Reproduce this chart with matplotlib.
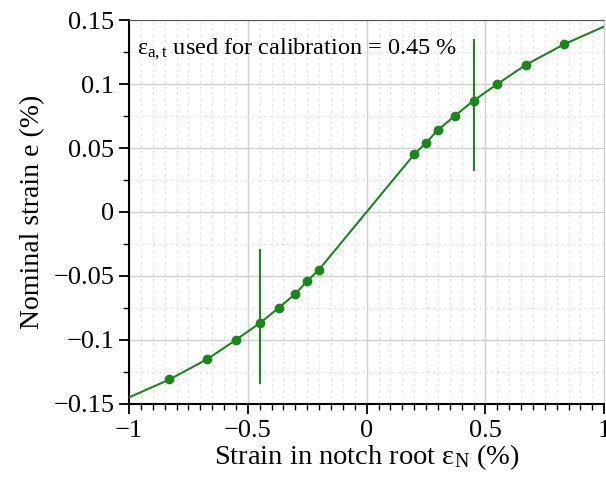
import matplotlib

matplotlib.use("Agg")

import matplotlib.pyplot as plt
from matplotlib.ticker import MultipleLocator, FuncFormatter

# measured points (strain in notch root vs nominal strain)
notch_strain = [-0.83, -0.67, -0.55, -0.45, -0.37, -0.30, -0.25, -0.20,
                0.20, 0.25, 0.30, 0.37, 0.45, 0.55, 0.67, 0.83]
nominal_strain = [-0.131, -0.115, -0.100, -0.087, -0.075, -0.064, -0.054, -0.045,
                  0.045, 0.054, 0.064, 0.075, 0.087, 0.100, 0.115, 0.131]

# fitted curve, extended to the axis limits
curve_x = [-1.0] + notch_strain[:8] + [0.0] + notch_strain[8:] + [1.0]
curve_y = [-0.145] + nominal_strain[:8] + [0.0] + nominal_strain[8:] + [0.145]

# calibration markers at +/- 0.45 %
calib_x = [-0.45, 0.45]
calib_low = [-0.1335, 0.0325]
calib_high = [-0.0295, 0.1345]

green = "#17891a"

plt.rcParams["font.family"] = ["Liberation Serif", "DejaVu Serif"]
plt.rcParams["mathtext.fontset"] = "custom"
plt.rcParams["mathtext.rm"] = "Liberation Serif"
plt.rcParams["mathtext.it"] = "Liberation Serif:italic"


def fmt(value, pos):
    text = f"{value:g}"
    return text.replace("-", "\u2212")


fig = plt.figure(figsize=(6.06, 4.79), dpi=100)
ax = fig.add_axes([0.213, 0.157, 0.784, 0.801])

ax.plot(curve_x, curve_y, color=green, linewidth=1.5, zorder=3)
ax.plot(notch_strain, nominal_strain, "o", color=green,
        markersize=6, zorder=4)

for x, lo, hi in zip(calib_x, calib_low, calib_high):
    ax.plot([x, x], [lo, hi], color=green, linewidth=1.5, zorder=3)

ax.set_xlim(-1, 1)
ax.set_ylim(-0.15, 0.15)

ax.xaxis.set_major_locator(MultipleLocator(0.5))
ax.xaxis.set_minor_locator(MultipleLocator(0.05))
ax.yaxis.set_major_locator(MultipleLocator(0.05))
ax.yaxis.set_minor_locator(MultipleLocator(0.025))
ax.xaxis.set_major_formatter(FuncFormatter(fmt))
ax.yaxis.set_major_formatter(FuncFormatter(fmt))

ax.grid(True, which="major", color="#d0d0d0", linewidth=1.0)
ax.grid(True, which="minor", color="#e6e6e6", linewidth=0.7,
        linestyle=(0, (3, 3)))
ax.set_axisbelow(True)

ax.tick_params(which="major", direction="out", length=7, width=1.3,
               labelsize=19, top=False, right=False)
ax.tick_params(axis="x", which="major", pad=5)
ax.tick_params(which="minor", direction="out", length=4, width=1.0,
               top=False, right=False)

ax.spines["left"].set_linewidth(1.5)
ax.spines["bottom"].set_linewidth(1.5)
ax.spines["top"].set_color("#555555")
ax.spines["right"].set_color("#cccccc")

ax.set_xlabel(r"Strain in notch root ε$_{\mathrm{N}}$ (%)", fontsize=20.5,
              labelpad=0)
ax.set_ylabel("Nominal strain e (%)", fontsize=20, labelpad=6)

ax.text(0.017, 0.925, r"ε$_{\mathrm{a,t}}$ used for calibration = 0.45 %",
        transform=ax.transAxes, fontsize=17.5, va="center", ha="left")

fig.savefig("out.png", dpi=100)
plt.close(fig)
